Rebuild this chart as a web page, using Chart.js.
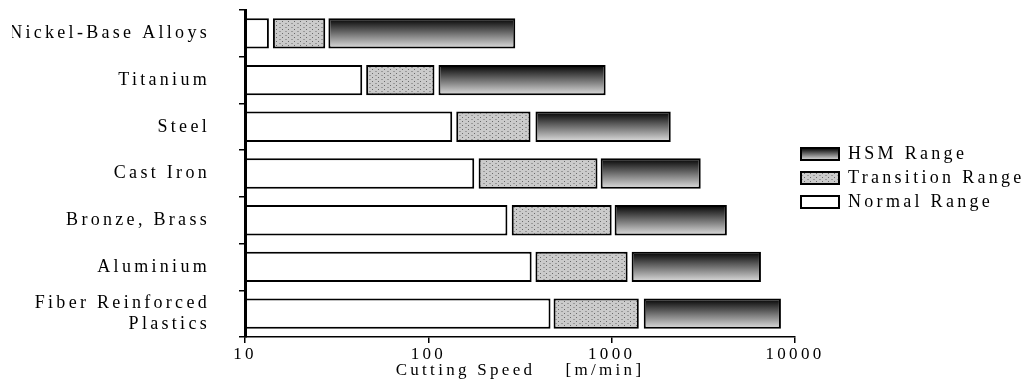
<!DOCTYPE html>
<html>
<head>
<meta charset="utf-8">
<script src="https://cdn.jsdelivr.net/npm/chart.js@4.4.1/dist/chart.umd.min.js"></script>
<style>
  html, body { margin: 0; padding: 0; background: #fff; }
  #wrap { width: 1024px; height: 388px; }
</style>
</head>
<body>
<div id="wrap"><canvas id="c"></canvas></div>
<script>
// materials, top to bottom
var materials = ["Nickel-Base Alloys", "Titanium", "Steel", "Cast Iron", "Bronze, Brass", "Aluminium", ["Fiber Reinforced", "Plastics"]];
// cutting speed ranges [from, to] in m/min
var normalRange     = [[10, 13.5], [10, 43.6], [10, 135], [10, 178], [10, 270], [10, 366], [10, 464]];
var transitionRange = [[14.2, 27.4], [45.8, 108], [142, 361], [188, 837], [285, 1000], [384, 1222], [482, 1406]];
var hsmRange        = [[28.5, 298], [113.6, 927], [384, 2100], [871, 3060], [1038, 4250], [1285, 6520], [1496, 8380]];
var speedTicks = [10, 100, 1000, 10000];

var black = "#000",
    serif = "'Liberation Serif', 'Times New Roman', serif",
    barPct = 0.65;

// dotted fill for the transition range
var dots = (function () {
    var cv = document.createElement("canvas");
    cv.width = 6; cv.height = 4;
    var g = cv.getContext("2d");
    g.fillStyle = "#cbcbcb"; g.fillRect(0, 0, 6, 4);
    g.fillStyle = "#6a6a6a"; g.fillRect(0, 1, 1, 1);
    g.fillStyle = "#9a9a9a"; g.fillRect(3, 3, 2, 1);
    return g.createPattern(cv, "repeat");
})();

function shade(ctx, top, bottom) {
    var gr = ctx.createLinearGradient(0, top, 0, bottom);
    gr.addColorStop(0, "#000");
    gr.addColorStop(1, "#e0e0e0");
    return gr;
}

// vertical black-to-grey gradient per HSM bar, taken from the y scale
function hsmFill(c) {
    var chart = c.chart, y = chart.scales.y;
    if (!y || c.dataIndex === undefined || !chart.chartArea) return "#555";
    var mid = y.getPixelForValue(c.dataIndex),
        half = (chart.chartArea.bottom - chart.chartArea.top) / materials.length * barPct / 2;
    return shade(chart.ctx, mid - half, mid + half);
}

// wide-set lettering like the original scan
var spacing = {
    id: "spacing",
    beforeLayout: function (chart) { chart.ctx.letterSpacing = "3.3px"; },
    beforeDraw: function (chart) {
        chart.ctx.letterSpacing = "3.3px";
        var lg = chart.legend;
        if (lg && lg.legendHitBoxes && lg.legendItems) {
            lg.legendItems.forEach(function (it, i) {
                var hb = lg.legendHitBoxes[i];
                if (it.text === "HSM Range" && hb) it.fillStyle = shade(chart.ctx, hb.top + 3, hb.top + hb.height - 3);
            });
        }
    }
};

var chart = new Chart(document.getElementById("c").getContext("2d"), {
    type: "bar",
    plugins: [spacing],
    data: {
        labels: materials,
        datasets: [
            { label: "Normal Range", data: normalRange, backgroundColor: "#fff" },
            { label: "Transition Range", data: transitionRange, backgroundColor: dots },
            { label: "HSM Range", data: hsmRange, backgroundColor: hsmFill }
        ]
    },
    options: {
        indexAxis: "y",
        responsive: true,
        maintainAspectRatio: false,
        animation: false,
        layout: { padding: { top: 10, right: 0, left: 12, bottom: 7 } },
        datasets: {
            bar: {
                grouped: false,
                borderColor: black,
                borderWidth: 2,
                borderSkipped: false,
                barPercentage: barPct,
                categoryPercentage: 1
            }
        },
        scales: {
            x: {
                type: "logarithmic",
                min: 10,
                max: 10000,
                afterBuildTicks: function (ax) { ax.ticks = speedTicks.map(function (v) { return { value: v }; }); },
                afterFit: function (s) { s.height = 44; },
                ticks: {
                    color: black,
                    font: { family: serif, size: 17 },
                    padding: 1,
                    maxRotation: 0,
                    callback: function (v) { return String(v); }
                },
                grid: { drawOnChartArea: false, drawTicks: true, tickLength: 6, color: black, lineWidth: 1.5 },
                border: { display: true, color: black, width: 1.5 },
                title: {
                    display: true,
                    text: "Cutting Speed    [m/min]",
                    color: black,
                    font: { family: serif, size: 17 },
                    padding: { top: 0, bottom: 0 }
                }
            },
            y: {
                afterFit: function (s) { s.paddingTop = 0; s.paddingBottom = 0; s.width = 233; },
                ticks: { color: black, font: { family: serif, size: 18 }, padding: 29, autoSkip: false },
                grid: { drawOnChartArea: false, drawTicks: true, tickLength: 6, offset: true, color: black, lineWidth: 1.5 },
                border: { display: true, color: black, width: 3 }
            }
        },
        plugins: {
            tooltip: { enabled: false },
            legend: {
                position: "right",
                fullSize: false,
                reverse: true,
                maxWidth: 229,
                // empty title only nudges the items down a little
                title: { display: true, text: "", font: { size: 1 }, padding: { top: 4, bottom: 4 } },
                labels: {
                    color: black,
                    font: { family: serif, size: 18 },
                    boxWidth: 38,
                    boxHeight: 12,
                    padding: 6
                }
            }
        }
    }
});
chart.update();
</script>
</body>
</html>
